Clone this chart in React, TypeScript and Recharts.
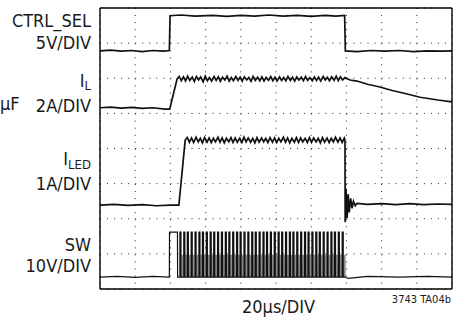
import { LineChart, Line, XAxis, YAxis, CartesianGrid } from 'recharts';

// scope screen: 10 x 8 divisions, levels read in divisions from the bottom edge
const xTicks = [0, 1, 2, 3, 4, 5, 6, 7, 8, 9, 10];
const yTicks = [0, 1, 2, 3, 4, 5, 6, 7, 8];

const ctrlSel: [number, number][] = [
  [0, 6.78], [0.3, 6.8], [0.6, 6.77], [0.9, 6.79], [1.2, 6.76], [1.5, 6.79], [1.8, 6.77], [1.97, 6.79],
  [1.99, 7.78], [2.3, 7.8], [2.7, 7.77], [3.2, 7.79], [3.6, 7.76], [4.0, 7.79], [4.4, 7.77], [4.8, 7.8],
  [5.2, 7.77], [5.6, 7.79], [6.0, 7.76], [6.4, 7.79], [6.7, 7.77], [6.95, 7.79],
  [6.97, 6.78], [7.3, 6.76], [7.7, 6.79], [8.1, 6.77], [8.5, 6.79], [8.9, 6.76], [9.3, 6.78], [9.7, 6.77], [10, 6.78],
];

const iL: [number, number][] = [
  [0, 5.16], [0.3, 5.18], [0.6, 5.15], [0.9, 5.17], [1.2, 5.14], [1.5, 5.16], [1.85, 5.12], [1.98, 5.12], [2.19, 5.98],
  [2.25, 6.05], [2.31, 5.93], [2.37, 6.04], [2.43, 5.92], [2.49, 6.06], [2.55, 5.94], [2.62, 6.03],
  [2.68, 5.91], [2.74, 6.05], [2.80, 5.95], [2.86, 6.04], [2.93, 5.90], [2.99, 6.06], [3.05, 5.93],
  [3.11, 6.02], [3.17, 5.92], [3.24, 6.05], [3.30, 5.94], [3.36, 6.04], [3.42, 5.91], [3.48, 6.03],
  [3.55, 5.95], [3.61, 6.06], [3.67, 5.92], [3.73, 6.02], [3.79, 5.93], [3.86, 6.05], [3.92, 5.94],
  [3.98, 6.03], [4.04, 5.92], [4.10, 6.04], [4.17, 5.95], [4.23, 6.02], [4.29, 5.91], [4.35, 6.05],
  [4.41, 5.94], [4.48, 6.03], [4.54, 5.93], [4.60, 6.04], [4.66, 5.92], [4.72, 6.02], [4.79, 5.94],
  [4.85, 6.05], [4.91, 5.93], [4.97, 6.03], [5.03, 5.92], [5.10, 6.04], [5.16, 5.94], [5.22, 6.02],
  [5.28, 5.93], [5.34, 6.05], [5.41, 5.94], [5.47, 6.03], [5.53, 5.92], [5.59, 6.04], [5.65, 5.95],
  [5.72, 6.03], [5.78, 5.93], [5.84, 6.05], [5.90, 5.94], [5.96, 6.02], [6.03, 5.93], [6.09, 6.04],
  [6.15, 5.94], [6.21, 6.03], [6.27, 5.92], [6.34, 6.05], [6.40, 5.95], [6.46, 6.03], [6.52, 5.93],
  [6.58, 6.04], [6.65, 5.94], [6.71, 6.06], [6.77, 5.93], [6.83, 6.04], [6.89, 5.95], [6.96, 6.02],
  [7.1, 5.95], [7.3, 5.92], [7.6, 5.83], [7.95, 5.75], [8.3, 5.65], [8.7, 5.56], [9.09, 5.46], [9.6, 5.38], [10, 5.33],
];

const iLed: [number, number][] = [
  [0, 2.39], [0.4, 2.41], [0.8, 2.38], [1.2, 2.40], [1.6, 2.37], [2.0, 2.39], [2.24, 2.39], [2.33, 3.3], [2.42, 4.24],
  [2.48, 4.31], [2.54, 4.18], [2.60, 4.30], [2.66, 4.17], [2.73, 4.32], [2.79, 4.19], [2.85, 4.29],
  [2.91, 4.16], [2.97, 4.31], [3.04, 4.18], [3.10, 4.30], [3.16, 4.17], [3.22, 4.29], [3.28, 4.19],
  [3.35, 4.32], [3.41, 4.18], [3.47, 4.30], [3.53, 4.16], [3.59, 4.29], [3.66, 4.19], [3.72, 4.31],
  [3.78, 4.17], [3.84, 4.30], [3.90, 4.18], [3.97, 4.29], [4.03, 4.17], [4.09, 4.32], [4.15, 4.19],
  [4.21, 4.30], [4.28, 4.18], [4.34, 4.29], [4.40, 4.16], [4.46, 4.31], [4.52, 4.18], [4.59, 4.30],
  [4.65, 4.19], [4.71, 4.29], [4.77, 4.17], [4.83, 4.31], [4.90, 4.18], [4.96, 4.30], [5.02, 4.17],
  [5.08, 4.29], [5.14, 4.19], [5.21, 4.32], [5.27, 4.18], [5.33, 4.30], [5.39, 4.16], [5.45, 4.29],
  [5.52, 4.18], [5.58, 4.31], [5.64, 4.17], [5.70, 4.30], [5.76, 4.19], [5.83, 4.29], [5.89, 4.17],
  [5.95, 4.31], [6.01, 4.18], [6.07, 4.30], [6.14, 4.19], [6.20, 4.29], [6.26, 4.16], [6.32, 4.31],
  [6.38, 4.18], [6.45, 4.30], [6.51, 4.17], [6.57, 4.29], [6.63, 4.19], [6.69, 4.32], [6.76, 4.18],
  [6.82, 4.30], [6.88, 4.17], [6.94, 4.30], [6.96, 4.24],
  [6.965, 1.9], [6.99, 2.85], [7.02, 2.02], [7.05, 2.7], [7.08, 2.18], [7.12, 2.58], [7.16, 2.3],
  [7.2, 2.5], [7.25, 2.37], [7.3, 2.44], [7.6, 2.41], [8.0, 2.43], [8.4, 2.40], [8.8, 2.43], [9.2, 2.40], [9.6, 2.42], [10, 2.41],
];

// switch node: low / high / ringing level and the start time of each switching pulse
const swLow = 0.34;
const swHigh = 1.62;
const swRingHigh = 0.95;
const swFirstPulse: [number, number] = [1.97, 2.2];
const swPulses = [
  2.27, 2.38, 2.48, 2.59, 2.70, 2.81, 2.91, 3.02, 3.13, 3.23, 3.34, 3.45, 3.56, 3.66, 3.77,
  3.88, 3.98, 4.09, 4.20, 4.31, 4.41, 4.52, 4.63, 4.73, 4.84, 4.95, 5.06, 5.16, 5.27, 5.38,
  5.48, 5.59, 5.70, 5.81, 5.91, 6.02, 6.13, 6.23, 6.34, 6.45, 6.56, 6.66, 6.77, 6.88,
];
const swPulseWidth = 0.03;
const swRingDelay = 0.06;

const toPts = (arr: [number, number][]) => arr.map(([x, v]) => ({ x, v }));

const swData = (() => {
  const pts: { x: number; v: number }[] = [
    { x: 0, v: swLow }, { x: 0.5, v: swLow + 0.02 }, { x: 1.0, v: swLow - 0.01 }, { x: 1.5, v: swLow + 0.02 },
    { x: swFirstPulse[0], v: swLow },
    { x: swFirstPulse[0] + 0.005, v: swHigh }, { x: swFirstPulse[1], v: swHigh }, { x: swFirstPulse[1] + 0.005, v: swLow },
  ];
  swPulses.forEach((t) => {
    pts.push({ x: t, v: swLow }, { x: t, v: swHigh }, { x: t + swPulseWidth, v: swHigh }, { x: t + swPulseWidth, v: swLow });
  });
  pts.push({ x: 6.97, v: swLow }, { x: 7.05, v: swLow - 0.04 }, { x: 7.6, v: swLow + 0.02 }, { x: 8.5, v: swLow }, { x: 9.3, v: swLow + 0.02 }, { x: 10, v: swLow });
  return pts;
})();

// lighter ringing between pulses
const swRingData = (() => {
  const pts: { x: number; v: number | null }[] = [];
  swPulses.forEach((t) => {
    const r = t + swRingDelay;
    pts.push({ x: r, v: swLow }, { x: r + 0.005, v: swRingHigh }, { x: r + 0.015, v: swRingHigh }, { x: r + 0.02, v: swLow }, { x: r + 0.03, v: null });
  });
  return pts;
})();

const minorX = Array.from({ length: 51 }, (_, i) => i * 0.2);
const minorY = Array.from({ length: 41 }, (_, i) => i * 0.2);

const font = '"Liberation Sans Narrow", "DejaVu Sans Condensed", "Liberation Sans", sans-serif';

function Txt({ children, right, left, baseline, size = 18 }: any) {
  const style: any = {
    position: 'absolute', top: baseline - 0.846 * size, fontSize: size, lineHeight: `${size}px`,
    fontFamily: font, color: '#1a1a1a', whiteSpace: 'nowrap',
  };
  if (right !== undefined) { style.right = 468 - right; style.textAlign = 'right'; }
  if (left !== undefined) style.left = left;
  return <div style={style}>{children}</div>;
}

const trace = { stroke: '#111', strokeWidth: 1.7, dot: false, isAnimationActive: false, type: 'linear' as const };
const border = { stroke: '#000', strokeWidth: 1.4 };

export default function App() {
  return (
    <div style={{ position: 'absolute', left: 0, top: 0, width: 468, height: 321, background: '#fff', overflow: 'hidden' }}>
      <LineChart width={468} height={321} margin={{ top: 8, right: 16, bottom: 32, left: 100 }}>
        <CartesianGrid stroke="#222" strokeWidth={1} strokeDasharray="1 6.04" />
        <XAxis dataKey="x" type="number" domain={[0, 10]} ticks={xTicks} hide allowDataOverflow />
        <YAxis type="number" domain={[0, 8]} ticks={yTicks} hide allowDataOverflow />
        <XAxis xAxisId="bot" type="number" domain={[0, 10]} ticks={minorX} mirror tick={false} tickSize={3}
          axisLine={border} tickLine={{ stroke: '#333' }} allowDataOverflow />
        <XAxis xAxisId="top" orientation="top" type="number" domain={[0, 10]} ticks={minorX} mirror tick={false} tickSize={3}
          axisLine={border} tickLine={{ stroke: '#333' }} allowDataOverflow />
        <YAxis yAxisId="lft" type="number" domain={[0, 8]} ticks={minorY} mirror tick={false} tickSize={3}
          axisLine={border} tickLine={{ stroke: '#333' }} allowDataOverflow />
        <YAxis yAxisId="rgt" orientation="right" type="number" domain={[0, 8]} ticks={minorY} mirror tick={false} tickSize={3}
          axisLine={border} tickLine={{ stroke: '#333' }} allowDataOverflow />
        <Line data={toPts(ctrlSel)} dataKey="v" {...trace} />
        <Line data={toPts(iL)} dataKey="v" {...trace} />
        <Line data={toPts(iLed)} dataKey="v" {...trace} />
        <Line data={swRingData} dataKey="v" {...trace} stroke="#8a8a8a" strokeWidth={1.6} connectNulls={false} />
        <Line data={swData} dataKey="v" {...trace} strokeWidth={1.2} />
      </LineChart>
      <Txt right={91} baseline={27}>CTRL_SEL</Txt>
      <Txt right={91} baseline={49}>5V/DIV</Txt>
      <Txt right={91} baseline={87}>I<span style={{ fontSize: 13, position: 'relative', top: 3 }}>L</span></Txt>
      <Txt right={91} baseline={112}>2A/DIV</Txt>
      <Txt left={0} baseline={110}>μF</Txt>
      <Txt right={91} baseline={165}>I<span style={{ fontSize: 13, position: 'relative', top: 4 }}>LED</span></Txt>
      <Txt right={91} baseline={190}>1A/DIV</Txt>
      <Txt right={91} baseline={251}>SW</Txt>
      <Txt right={91} baseline={272}>10V/DIV</Txt>
      <Txt left={242} baseline={313}>20μs/DIV</Txt>
      <Txt right={451} baseline={303} size={11}>3743 TA04b</Txt>
    </div>
  );
}
